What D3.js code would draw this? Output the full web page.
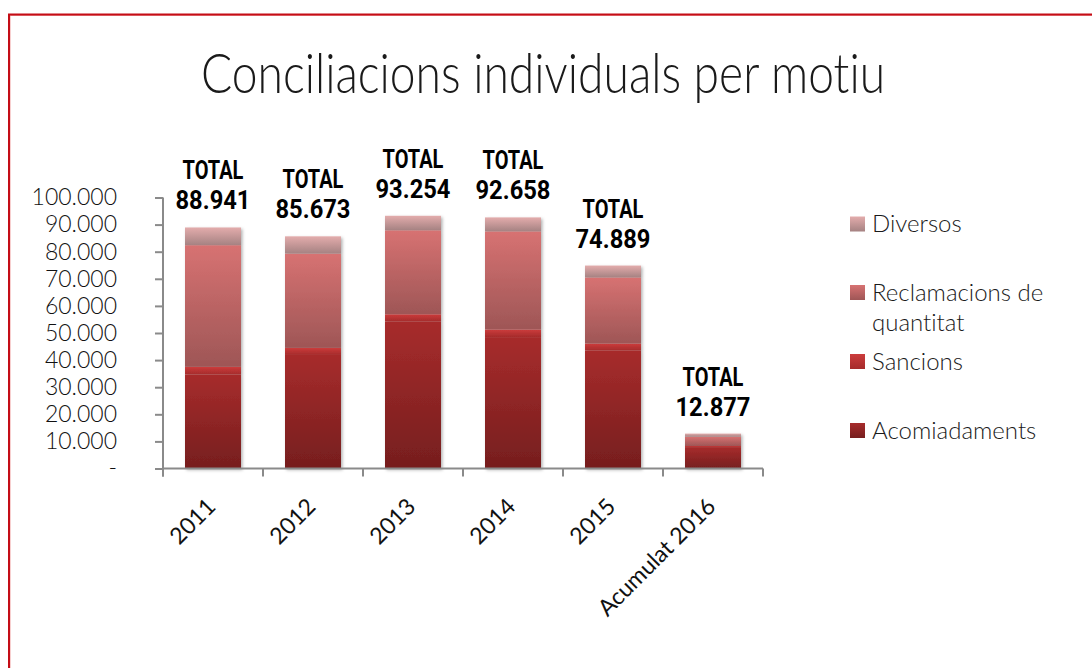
<!DOCTYPE html>
<html>
<head>
<meta charset="utf-8">
<script src="https://cdn.jsdelivr.net/npm/d3@7"></script>
<style>
  html, body { margin: 0; padding: 0; background: #fff; }
  svg { display: block; }
  text { font-variant-ligatures: none; font-feature-settings: "liga" 0, "clig" 0; }
</style>
</head>
<body>
<svg id="chart" width="1092" height="668"></svg>
<script>
// Conciliacions individuals per motiu (stacked by reason)
const categories = ["2011", "2012", "2013", "2014", "2015", "Acumulat 2016"];
const acomiadaments = [34700, 41900, 54300, 48500, 43500, 7900];
const sancions = [2800, 2600, 2600, 2800, 2600, 400];
const reclamacions = [44900, 34800, 31000, 36200, 24400, 3400];
const diversos = [6541, 6373, 5354, 5158, 4389, 1177];
const totals = [88941, 85673, 93254, 92658, 74889, 12877];
const yTickValues = [0, 10000, 20000, 30000, 40000, 50000, 60000, 70000, 80000, 90000, 100000];
const yTickLabels = ["-", "10.000", "20.000", "30.000", "40.000", "50.000", "60.000", "70.000", "80.000", "90.000", "100.000"];
const seriesNames = ["Acomiadaments", "Sancions", "Reclamacions de quantitat", "Diversos"];

const svg = d3.select("#chart");
const W = 1092, H = 668;
const lightFont = "Lato, 'Open Sans', 'DejaVu Sans', sans-serif";
const boldFont = "Roboto, 'Liberation Sans', Arial, sans-serif";

// frame
svg.append("rect").attr("x", 0).attr("y", 0).attr("width", W).attr("height", H).attr("fill", "#fff");
svg.append("rect").attr("x", 10).attr("y", 15.5).attr("width", W + 20).attr("height", H + 20)
  .attr("fill", "none").attr("stroke", "#f0a0a0").attr("stroke-width", 1);
svg.append("rect").attr("x", 9).attr("y", 14.5).attr("width", W + 20).attr("height", H + 20)
  .attr("fill", "none").attr("stroke", "#c40d16").attr("stroke-width", 2);

const defs = svg.append("defs");
const gradStops = {
  "Acomiadaments": ["#a72c2c", "#761e1e"],
  "Sancions": ["#cc3c3c", "#a52b2b"],
  "Reclamacions de quantitat": ["#d77272", "#9e5656"],
  "Diversos": ["#e3acac", "#a58282"]
};
seriesNames.forEach((k, i) => {
  const g = defs.append("linearGradient").attr("id", "grad" + i)
    .attr("x1", 0).attr("y1", 0).attr("x2", 0).attr("y2", 1);
  g.append("stop").attr("offset", "0%").attr("stop-color", gradStops[k][0]);
  g.append("stop").attr("offset", "100%").attr("stop-color", gradStops[k][1]);
});
const shadow = defs.append("filter").attr("id", "shadow")
  .attr("x", "-20%").attr("y", "-20%").attr("width", "150%").attr("height", "150%");
shadow.append("feDropShadow").attr("dx", 1.5).attr("dy", 1.5).attr("stdDeviation", 1.8)
  .attr("flood-color", "#000").attr("flood-opacity", 0.3);

// title
const titleG = svg.append("g").attr("transform", "translate(543,93) scale(0.84,1)");
titleG.append("text").attr("text-anchor", "middle")
  .attr("font-family", lightFont).attr("font-weight", 300).attr("font-size", 55)
  .attr("fill", "#1a1a1a").text("Conciliacions individuals per motiu");

// scales
const x = d3.scaleBand().domain(categories).range([163, 763]).paddingInner(0.44).paddingOuter(0.22);
const y = d3.scaleLinear().domain([0, 100000]).range([468.5, 197.5]);

// stacked data
const rows = categories.map((c, i) => ({
  cat: c,
  "Acomiadaments": acomiadaments[i],
  "Sancions": sancions[i],
  "Reclamacions de quantitat": reclamacions[i],
  "Diversos": diversos[i]
}));
const stacked = d3.stack().keys(seriesNames)(rows);

// bars
const barGroups = svg.append("g").selectAll("g.bar")
  .data(categories).join("g").attr("class", "bar").attr("filter", "url(#shadow)");
barGroups.each(function (c, ci) {
  const g = d3.select(this);
  stacked.forEach((s, si) => {
    const d = s[ci];
    g.append("rect")
      .attr("x", x(c)).attr("width", x.bandwidth())
      .attr("y", y(d[1])).attr("height", y(d[0]) - y(d[1]))
      .attr("fill", `url(#grad${si})`);
  });
});

// axes
const axisColor = "#8a8a8a";
const yAxis = d3.axisLeft(y).tickValues(yTickValues)
  .tickFormat((d, i) => yTickLabels[i]).tickSize(8).tickPadding(38);
const yg = svg.append("g").attr("transform", "translate(163,0)").call(yAxis);
yg.select(".domain").remove();
yg.selectAll(".tick line").attr("stroke", axisColor).attr("stroke-width", 2);
yg.selectAll(".tick text").attr("font-family", lightFont).attr("font-weight", 300)
  .attr("font-size", 23).attr("fill", "#111");
svg.append("line").attr("x1", 163).attr("x2", 163).attr("y1", y(100000)).attr("y2", y(0) + 8)
  .attr("stroke", axisColor).attr("stroke-width", 2);

// x axis line and category boundary ticks
svg.append("line").attr("x1", 163).attr("x2", 763).attr("y1", y(0)).attr("y2", y(0))
  .attr("stroke", axisColor).attr("stroke-width", 2);
const boundaries = categories.map(c => x(c) - (x.step() - x.bandwidth()) / 2).concat([x.range()[1]]);
svg.append("g").selectAll("line").data(boundaries).join("line")
  .attr("x1", d => d).attr("x2", d => d).attr("y1", y(0)).attr("y2", y(0) + 8)
  .attr("stroke", axisColor).attr("stroke-width", 2);

// x labels rotated
svg.append("g").selectAll("text").data(categories).join("text")
  .attr("transform", d => `translate(${x(d) + x.bandwidth() / 2 + 4},508) rotate(-45)`)
  .attr("text-anchor", "end")
  .attr("font-family", lightFont).attr("font-weight", 400).attr("font-size", 23)
  .attr("fill", "#111").text(d => d);

// total labels
const fmt = d3.formatLocale({ decimal: ",", thousands: ".", grouping: [3], currency: ["", "€"] }).format(",");
const labels = svg.append("g").selectAll("g").data(categories).join("g")
  .attr("transform", (d, i) => `translate(${x(d) + x.bandwidth() / 2},${y(totals[i]) - 18})`);
labels.append("g").attr("transform", "translate(0,-30) scale(0.8,1)")
  .append("text").attr("text-anchor", "middle")
  .attr("font-family", boldFont).attr("font-weight", 700).attr("font-size", 25).attr("fill", "#000")
  .text("TOTAL");
labels.append("g").attr("transform", "scale(0.95,1)")
  .append("text").attr("text-anchor", "middle")
  .attr("font-family", boldFont).attr("font-weight", 700).attr("font-size", 25).attr("fill", "#000")
  .text((d, i) => fmt(totals[i]));

// legend (top to bottom: Diversos, Reclamacions, Sancions, Acomiadaments)
const legendItems = [
  { key: "Diversos", idx: 3, cy: 224, lines: ["Diversos"] },
  { key: "Reclamacions de quantitat", idx: 2, cy: 292.5, lines: ["Reclamacions de", "quantitat"] },
  { key: "Sancions", idx: 1, cy: 361.5, lines: ["Sancions"] },
  { key: "Acomiadaments", idx: 0, cy: 430.5, lines: ["Acomiadaments"] }
];
const lg = svg.append("g").selectAll("g").data(legendItems).join("g")
  .attr("transform", d => `translate(850,${d.cy})`);
lg.append("rect").attr("x", 0).attr("y", -7.5).attr("width", 15).attr("height", 15)
  .attr("fill", d => `url(#grad${d.idx})`);
lg.each(function (d) {
  const t = d3.select(this).append("text")
    .attr("font-family", lightFont).attr("font-weight", 300).attr("font-size", 24).attr("fill", "#1a1a1a");
  d.lines.forEach((ln, li) => {
    t.append("tspan").attr("x", 22).attr("y", 8 + li * 30).text(ln);
  });
});
</script>
</body>
</html>
